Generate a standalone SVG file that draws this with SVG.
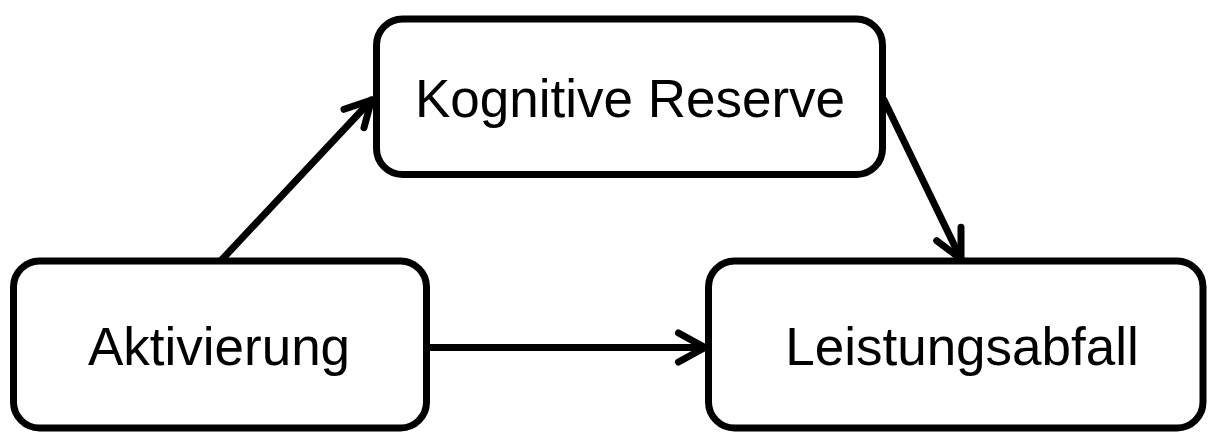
<svg xmlns="http://www.w3.org/2000/svg" width="1208" height="432" viewBox="0 0 1208 432">
<style>
.box{fill:#fff;stroke:#000;stroke-width:7}
.lbl{font-family:"Liberation Sans",Arial,sans-serif;font-size:53px;fill:#000;text-anchor:middle}
.edge{fill:none;stroke:#000;stroke-width:7;stroke-linecap:round;stroke-linejoin:round}
</style>
<rect width="1208" height="432" fill="#fff"/>
<g id="node-kognitive">
<rect class="box" x="376.5" y="19" width="506" height="155.5" rx="26" ry="26"/>
<text class="lbl" x="630" y="117">Kognitive Reserve</text>
</g>
<g id="node-aktivierung">
<rect class="box" x="13.5" y="261" width="413" height="167" rx="26" ry="26"/>
<text class="lbl" x="219" y="365">Aktivierung</text>
</g>
<g id="node-leistung">
<rect class="box" x="708.5" y="261" width="494.5" height="167" rx="26" ry="26"/>
<text class="lbl" x="962" y="365">Leistungsabfall</text>
</g>
<g id="connectors">
<path class="edge" d="M221.5 260 L371.5 100"/>
<path class="edge" d="M344 109.3 L371.5 100 L364 127.7"/>
<path class="edge" d="M884 100 L961 259"/>
<path class="edge" d="M936.7 240.7 L961 259 L961 227.3"/>
<path class="edge" d="M430 347.5 L705 347.5"/>
<path class="edge" d="M678.5 333 L705 347.5 L678.5 362"/>
</g>
</svg>
